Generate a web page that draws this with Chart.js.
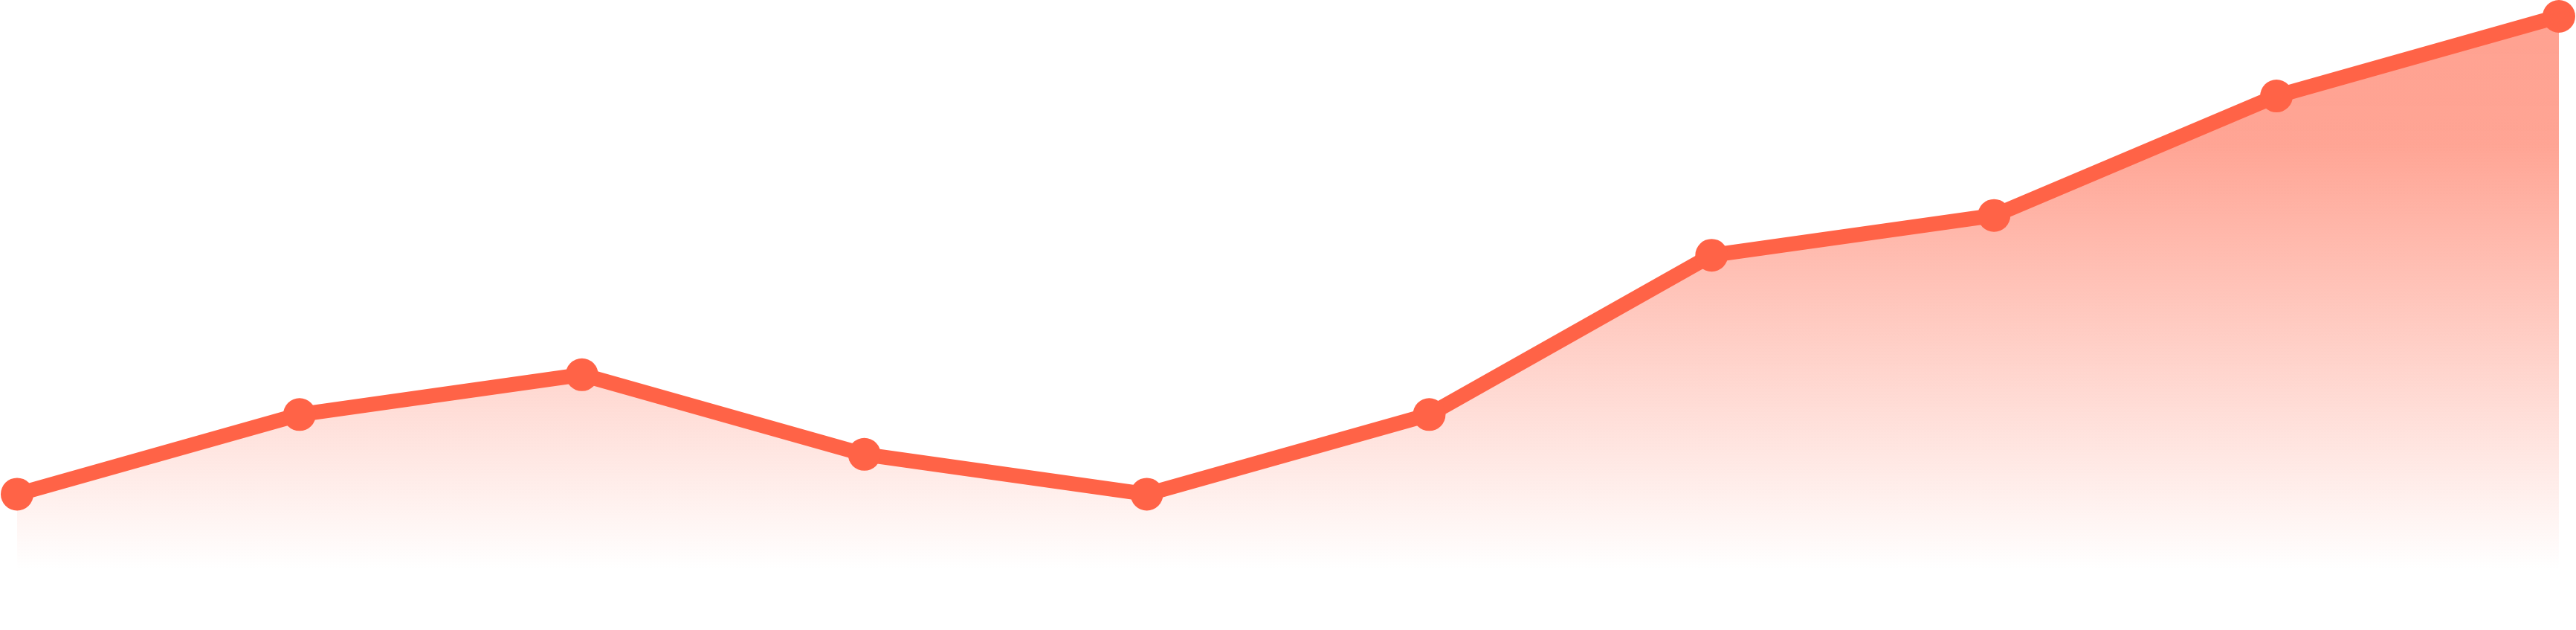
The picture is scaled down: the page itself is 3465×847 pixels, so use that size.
<!DOCTYPE html>
<html>
<head>
<meta charset="utf-8">
<script src="https://cdn.jsdelivr.net/npm/chart.js@4.4.1/dist/chart.umd.min.js"></script>
<style>
  html, body { margin: 0; padding: 0; background: #fff; }
  #wrap { width: 3465px; height: 847px; position: relative; }
</style>
</head>
<body>
<div id="wrap"><canvas id="chartTrend"></canvas></div>
<script>
const labels = ['1', '2', '3', '4', '5', '6', '7', '8', '9', '10'];
const values = [3, 5, 6, 4, 3, 5, 9, 10, 13, 15];
const yMin = 0;
const yMax = 15;

const lineColor = 'rgb(255, 99, 71)';

// vertical fade: solid-ish near the top, transparent a little above the bottom edge
function fillGradient(context) {
  const chart = context.chart;
  const area = chart.chartArea;
  if (!area) return 'rgba(255, 99, 71, 0.3)';
  const g = chart.ctx.createLinearGradient(0, area.top, 0, area.bottom - 60);
  g.addColorStop(0, 'rgba(255, 99, 71, 0.6)');
  g.addColorStop(0.23, 'rgba(255, 99, 71, 0.58)');
  g.addColorStop(1, 'rgba(255, 99, 71, 0)');
  return g;
}

const ctx = document.getElementById('chartTrend');

new Chart(ctx, {
  type: 'line',
  data: {
    labels: labels,
    datasets: [{
      label: 'trend',
      data: values,
      borderColor: lineColor,
      borderWidth: 20,
      backgroundColor: fillGradient,
      fill: 'origin',
      tension: 0,
      clip: false,
      pointRadius: 22,
      pointBorderWidth: 0,
      pointBackgroundColor: lineColor,
      pointBorderColor: lineColor
    }]
  },
  options: {
    responsive: true,
    maintainAspectRatio: false,
    animation: false,
    layout: {
      padding: { left: 23, right: 23, top: 22, bottom: 0 }
    },
    plugins: {
      legend: { display: false },
      tooltip: { enabled: false }
    },
    scales: {
      x: { display: false },
      y: { display: false, min: yMin, max: yMax }
    }
  }
});
</script>
</body>
</html>
